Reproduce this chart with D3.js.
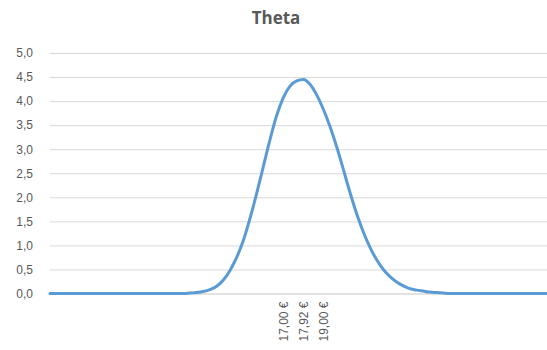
<!DOCTYPE html>
<html>
<head>
<meta charset="utf-8">
<script src="https://cdn.jsdelivr.net/npm/d3@7"></script>
<style>
  html, body { margin: 0; padding: 0; background: #fff; }
  svg { display: block; }
</style>
</head>
<body>
<svg id="chart" width="547" height="350"></svg>
<script>
// ---- Data ----
const title = "Theta";
// density values, one per category (evenly spaced along the category axis)
const values = [
  0, 0, 0, 0, 0, 0, 0, 0, 0, 0,
  0, 0, 0, 0, 0, 0, 0, 0, 0, 0,
  0, 0.01, 0.02, 0.04, 0.08, 0.15, 0.28, 0.48, 0.75, 1.10,
  1.56, 2.08, 2.64, 3.20, 3.70, 4.07, 4.31, 4.42, 4.45, 4.35,
  4.13, 3.83, 3.47, 3.05, 2.58, 2.10, 1.66, 1.28, 0.96, 0.70,
  0.50, 0.35, 0.24, 0.16, 0.10, 0.07, 0.05, 0.03, 0.02, 0.01,
  0, 0, 0, 0, 0, 0, 0, 0, 0, 0,
  0, 0, 0, 0, 0, 0
];
// category labels (only three are shown on the axis)
const categoryLabels = values.map(() => "");
categoryLabels[35] = "17,00 €";
categoryLabels[38] = "17,92 €";
categoryLabels[41] = "19,00 €";
const yTicks = [0, 0.5, 1, 1.5, 2, 2.5, 3, 3.5, 4, 4.5, 5];

// ---- Layout ----
const svg = d3.select("#chart");
const W = 547, H = 350;
const mLeft = 50, mTop = 53, mBottom = 293.5;

const x = d3.scalePoint()
  .domain(d3.range(values.length))
  .range([mLeft, mLeft + (values.length - 1) * (20 / 3)]);

const y = d3.scaleLinear().domain([0, 5]).range([mBottom, mTop]);

const grey = "#595959";
const font = "Liberation Sans, Arial, sans-serif";

// title
svg.append("text")
  .attr("x", 276).attr("y", 24)
  .attr("text-anchor", "middle")
  .attr("font-family", "Open Sans, sans-serif")
  .attr("font-weight", "bold")
  .attr("font-size", 17)
  .attr("fill", grey)
  .text(title);

// clip
svg.append("clipPath").attr("id", "plotclip")
  .append("rect").attr("x", 0).attr("y", 0).attr("width", W).attr("height", H);

// y axis with gridlines
const yAxis = d3.axisLeft(y)
  .tickValues(yTicks)
  .tickSize(-(W - mLeft))
  .tickPadding(17)
  .tickFormat(d => d3.format(".1f")(d).replace(".", ","));

const gy = svg.append("g")
  .attr("transform", `translate(${mLeft},0)`)
  .call(yAxis);
gy.select(".domain").remove();
gy.selectAll(".tick line").attr("stroke", "#d9d9d9").attr("stroke-width", 1);
gy.selectAll(".tick text")
  .attr("fill", grey)
  .attr("font-family", font)
  .attr("font-size", 12);

// x axis
const labelIdx = d3.range(values.length).filter(i => categoryLabels[i] !== "");
const xAxis = d3.axisBottom(x)
  .tickValues(labelIdx)
  .tickSize(0)
  .tickFormat(i => categoryLabels[i]);
const gx = svg.append("g")
  .attr("transform", `translate(0,${mBottom})`)
  .call(xAxis);
gx.select(".domain").attr("stroke", "#d9d9d9");
gx.selectAll(".tick text")
  .attr("fill", grey)
  .attr("font-family", font)
  .attr("font-size", 12)
  .attr("text-anchor", "end")
  .attr("transform", "rotate(-90)")
  .attr("x", -8)
  .attr("y", 0)
  .attr("dy", "0.35em");

// line
const line = d3.line()
  .x((d, i) => x(i))
  .y(d => y(d))
  .curve(d3.curveMonotoneX);

svg.append("path")
  .datum(values)
  .attr("clip-path", "url(#plotclip)")
  .attr("fill", "none")
  .attr("stroke", "#5b9bd5")
  .attr("stroke-width", 3)
  .attr("stroke-linejoin", "round")
  .attr("stroke-linecap", "round")
  .attr("d", line);
</script>
</body>
</html>
